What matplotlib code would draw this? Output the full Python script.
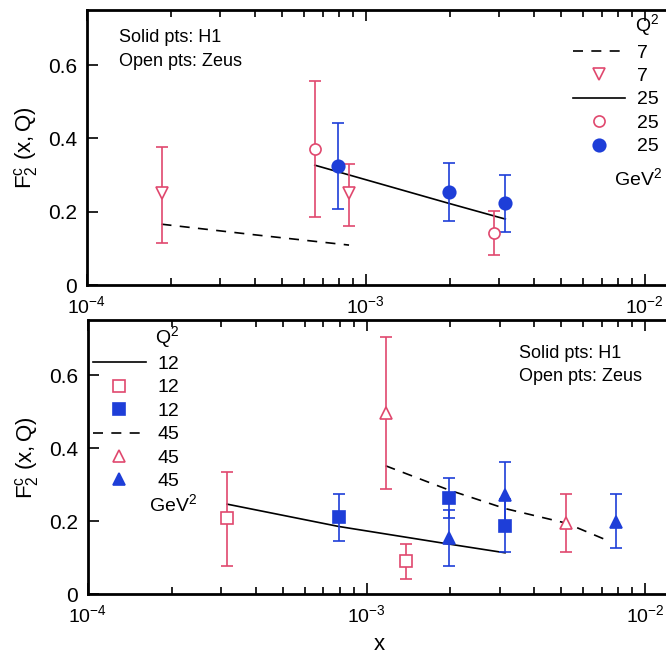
import matplotlib
matplotlib.use('Agg')
import matplotlib.pyplot as plt
from matplotlib.lines import Line2D
from matplotlib.ticker import LogLocator, LogFormatterMathtext, FixedFormatter

plt.rcParams['font.family'] = ['Liberation Sans', 'DejaVu Sans']
plt.rcParams['mathtext.fontset'] = 'custom'
plt.rcParams['mathtext.rm'] = 'Liberation Sans'
plt.rcParams['mathtext.it'] = 'Liberation Sans'

RED = '#e0486e'
BLUE = '#1e3ed8'

# ---- top panel data (Q2 = 7, 25 GeV^2) ----
zeus7_x = [1.85e-4, 8.73e-4]
zeus7_y = [0.250, 0.250]
zeus7_lo = [0.116, 0.161]
zeus7_hi = [0.377, 0.330]

zeus25_x = [6.56e-4, 2.87e-3]
zeus25_y = [0.371, 0.143]
zeus25_lo = [0.186, 0.081]
zeus25_hi = [0.557, 0.203]

h1_25_x = [7.93e-4, 1.98e-3, 3.16e-3]
h1_25_y = [0.325, 0.253, 0.223]
h1_25_lo = [0.207, 0.174, 0.145]
h1_25_hi = [0.441, 0.334, 0.301]

theo7_x = [1.85e-4, 4.0e-4, 8.7e-4]
theo7_y = [0.166, 0.137, 0.109]
theo25_x = [6.56e-4, 1.98e-3, 3.16e-3]
theo25_y = [0.327, 0.223, 0.180]

# ---- bottom panel data (Q2 = 12, 45 GeV^2) ----
zeus12_x = [3.16e-4, 1.38e-3]
zeus12_y = [0.208, 0.091]
zeus12_lo = [0.079, 0.042]
zeus12_hi = [0.335, 0.138]

h1_12_x = [7.94e-4, 1.97e-3, 3.14e-3]
h1_12_y = [0.211, 0.263, 0.188]
h1_12_lo = [0.146, 0.208, 0.115]
h1_12_hi = [0.276, 0.318, 0.261]

zeus45_x = [1.17e-3, 5.21e-3]
zeus45_y = [0.495, 0.195]
zeus45_lo = [0.288, 0.115]
zeus45_hi = [0.705, 0.276]

h1_45_x = [1.97e-3, 3.14e-3, 7.85e-3]
h1_45_y = [0.154, 0.272, 0.199]
h1_45_lo = [0.079, 0.183, 0.126]
h1_45_hi = [0.231, 0.361, 0.275]

theo12_x = [3.16e-4, 7.94e-4, 1.97e-3, 3.14e-3]
theo12_y = [0.247, 0.186, 0.138, 0.114]
theo45_x = [1.17e-3, 1.97e-3, 3.14e-3, 5.21e-3, 7.2e-3]
theo45_y = [0.352, 0.286, 0.235, 0.195, 0.150]

yticks = [0, 0.2, 0.4, 0.6]
ytick_labels = ['0', '0.2', '0.4', '0.6']


def errs(y, lo, hi):
    return [[a - b for a, b in zip(y, lo)], [b - a for a, b in zip(y, hi)]]


def points(ax, x, y, lo, hi, color, marker, filled, ms):
    ax.errorbar(x, y, yerr=errs(y, lo, hi), fmt='none', ecolor=color,
                elinewidth=1.2, capsize=4.5, capthick=1.2, zorder=2)
    ax.plot(x, y, linestyle='none', marker=marker, ms=ms, mew=1.2,
            mec=color, mfc=color if filled else 'white', zorder=3)


def style_axes(ax):
    ax.set_xscale('log')
    ax.set_xlim(1e-4, 1.235e-2)
    ax.set_ylim(0, 0.75)
    ax.xaxis.set_major_locator(LogLocator(base=10))
    ax.xaxis.set_minor_locator(LogLocator(base=10, subs=range(2, 10)))
    ax.xaxis.set_major_formatter(LogFormatterMathtext())
    ax.set_yticks(yticks)
    ax.yaxis.set_major_formatter(FixedFormatter(ytick_labels))
    ax.tick_params(which='both', direction='in', top=True, right=False,
                   width=1.2, pad=7)
    ax.tick_params(axis='y', labelsize=15)
    ax.tick_params(axis='x', labelsize=14)
    ax.tick_params(which='major', length=8)
    ax.tick_params(which='minor', length=5)
    for s in ax.spines.values():
        s.set_linewidth(2)
    ax.set_ylabel(r'$\mathregular{F_2^c\ (x,Q)}$', fontsize=16, labelpad=6)


fig = plt.figure(figsize=(6.66, 6.56), dpi=100)
ax1 = fig.add_axes([0.1306, 0.5655, 0.876, 0.419])
ax2 = fig.add_axes([0.1321, 0.0938, 0.875, 0.418])

# top panel
ax1.plot(theo7_x, theo7_y, color='black', lw=1.2, dashes=(6, 5))
ax1.plot(theo25_x, theo25_y, color='black', lw=1.2)
points(ax1, zeus7_x, zeus7_y, zeus7_lo, zeus7_hi, RED, 'v', False, 9)
points(ax1, zeus25_x, zeus25_y, zeus25_lo, zeus25_hi, RED, 'o', False, 8)
points(ax1, h1_25_x, h1_25_y, h1_25_lo, h1_25_hi, BLUE, 'o', True, 9)
style_axes(ax1)
ax1.text(0.055, 0.9, 'Solid pts: H1', transform=ax1.transAxes, fontsize=13, va='center')
ax1.text(0.055, 0.815, 'Open pts: Zeus', transform=ax1.transAxes, fontsize=13, va='center')

h_top = [Line2D([], [], color='black', lw=1.2, dashes=(6, 5)),
         Line2D([], [], ls='none', marker='v', ms=9, mec=RED, mfc='white', mew=1.2),
         Line2D([], [], color='black', lw=1.2),
         Line2D([], [], ls='none', marker='o', ms=8, mec=RED, mfc='white', mew=1.2),
         Line2D([], [], ls='none', marker='o', ms=9, mec=BLUE, mfc=BLUE, mew=1.2)]
ax1.legend(h_top, ['7', '7', '25', '25', '25'], title=r'$\mathregular{Q^2}$',
           loc='upper right', bbox_to_anchor=(1.0, 1.035), frameon=False,
           fontsize=14, title_fontsize=14, handlelength=2.7, handletextpad=0.6,
           labelspacing=0.3, borderaxespad=0.2, alignment='right')
ax1.text(0.986, 0.39, r'$\mathregular{GeV^2}$', transform=ax1.transAxes,
         fontsize=14, ha='right', va='center')

# bottom panel
ax2.plot(theo12_x, theo12_y, color='black', lw=1.2)
ax2.plot(theo45_x, theo45_y, color='black', lw=1.2, dashes=(6, 5))
points(ax2, zeus12_x, zeus12_y, zeus12_lo, zeus12_hi, RED, 's', False, 8)
points(ax2, h1_12_x, h1_12_y, h1_12_lo, h1_12_hi, BLUE, 's', True, 8)
points(ax2, zeus45_x, zeus45_y, zeus45_lo, zeus45_hi, RED, '^', False, 9)
points(ax2, h1_45_x, h1_45_y, h1_45_lo, h1_45_hi, BLUE, '^', True, 9)
style_axes(ax2)
ax2.set_xlabel('x', fontsize=16, labelpad=6)
ax2.text(0.74, 0.88, 'Solid pts: H1', transform=ax2.transAxes, fontsize=13, va='center')
ax2.text(0.74, 0.796, 'Open pts: Zeus', transform=ax2.transAxes, fontsize=13, va='center')

h_bot = [Line2D([], [], color='black', lw=1.2),
         Line2D([], [], ls='none', marker='s', ms=8, mec=RED, mfc='white', mew=1.2),
         Line2D([], [], ls='none', marker='s', ms=8, mec=BLUE, mfc=BLUE, mew=1.2),
         Line2D([], [], color='black', lw=1.2, dashes=(6, 5)),
         Line2D([], [], ls='none', marker='^', ms=9, mec=RED, mfc='white', mew=1.2),
         Line2D([], [], ls='none', marker='^', ms=9, mec=BLUE, mfc=BLUE, mew=1.2)]
ax2.legend(h_bot, ['12', '12', '12', '45', '45', '45'], title=r'$\mathregular{Q^2}$',
           loc='upper left', bbox_to_anchor=(-0.011, 1.03), frameon=False,
           fontsize=14, title_fontsize=14, handlelength=2.7, handletextpad=0.6,
           labelspacing=0.3, borderaxespad=0.2, alignment='right')
ax2.text(0.105, 0.33, r'$\mathregular{GeV^2}$', transform=ax2.transAxes,
         fontsize=14, ha='left', va='center')

fig.savefig('out.png', dpi=100)
